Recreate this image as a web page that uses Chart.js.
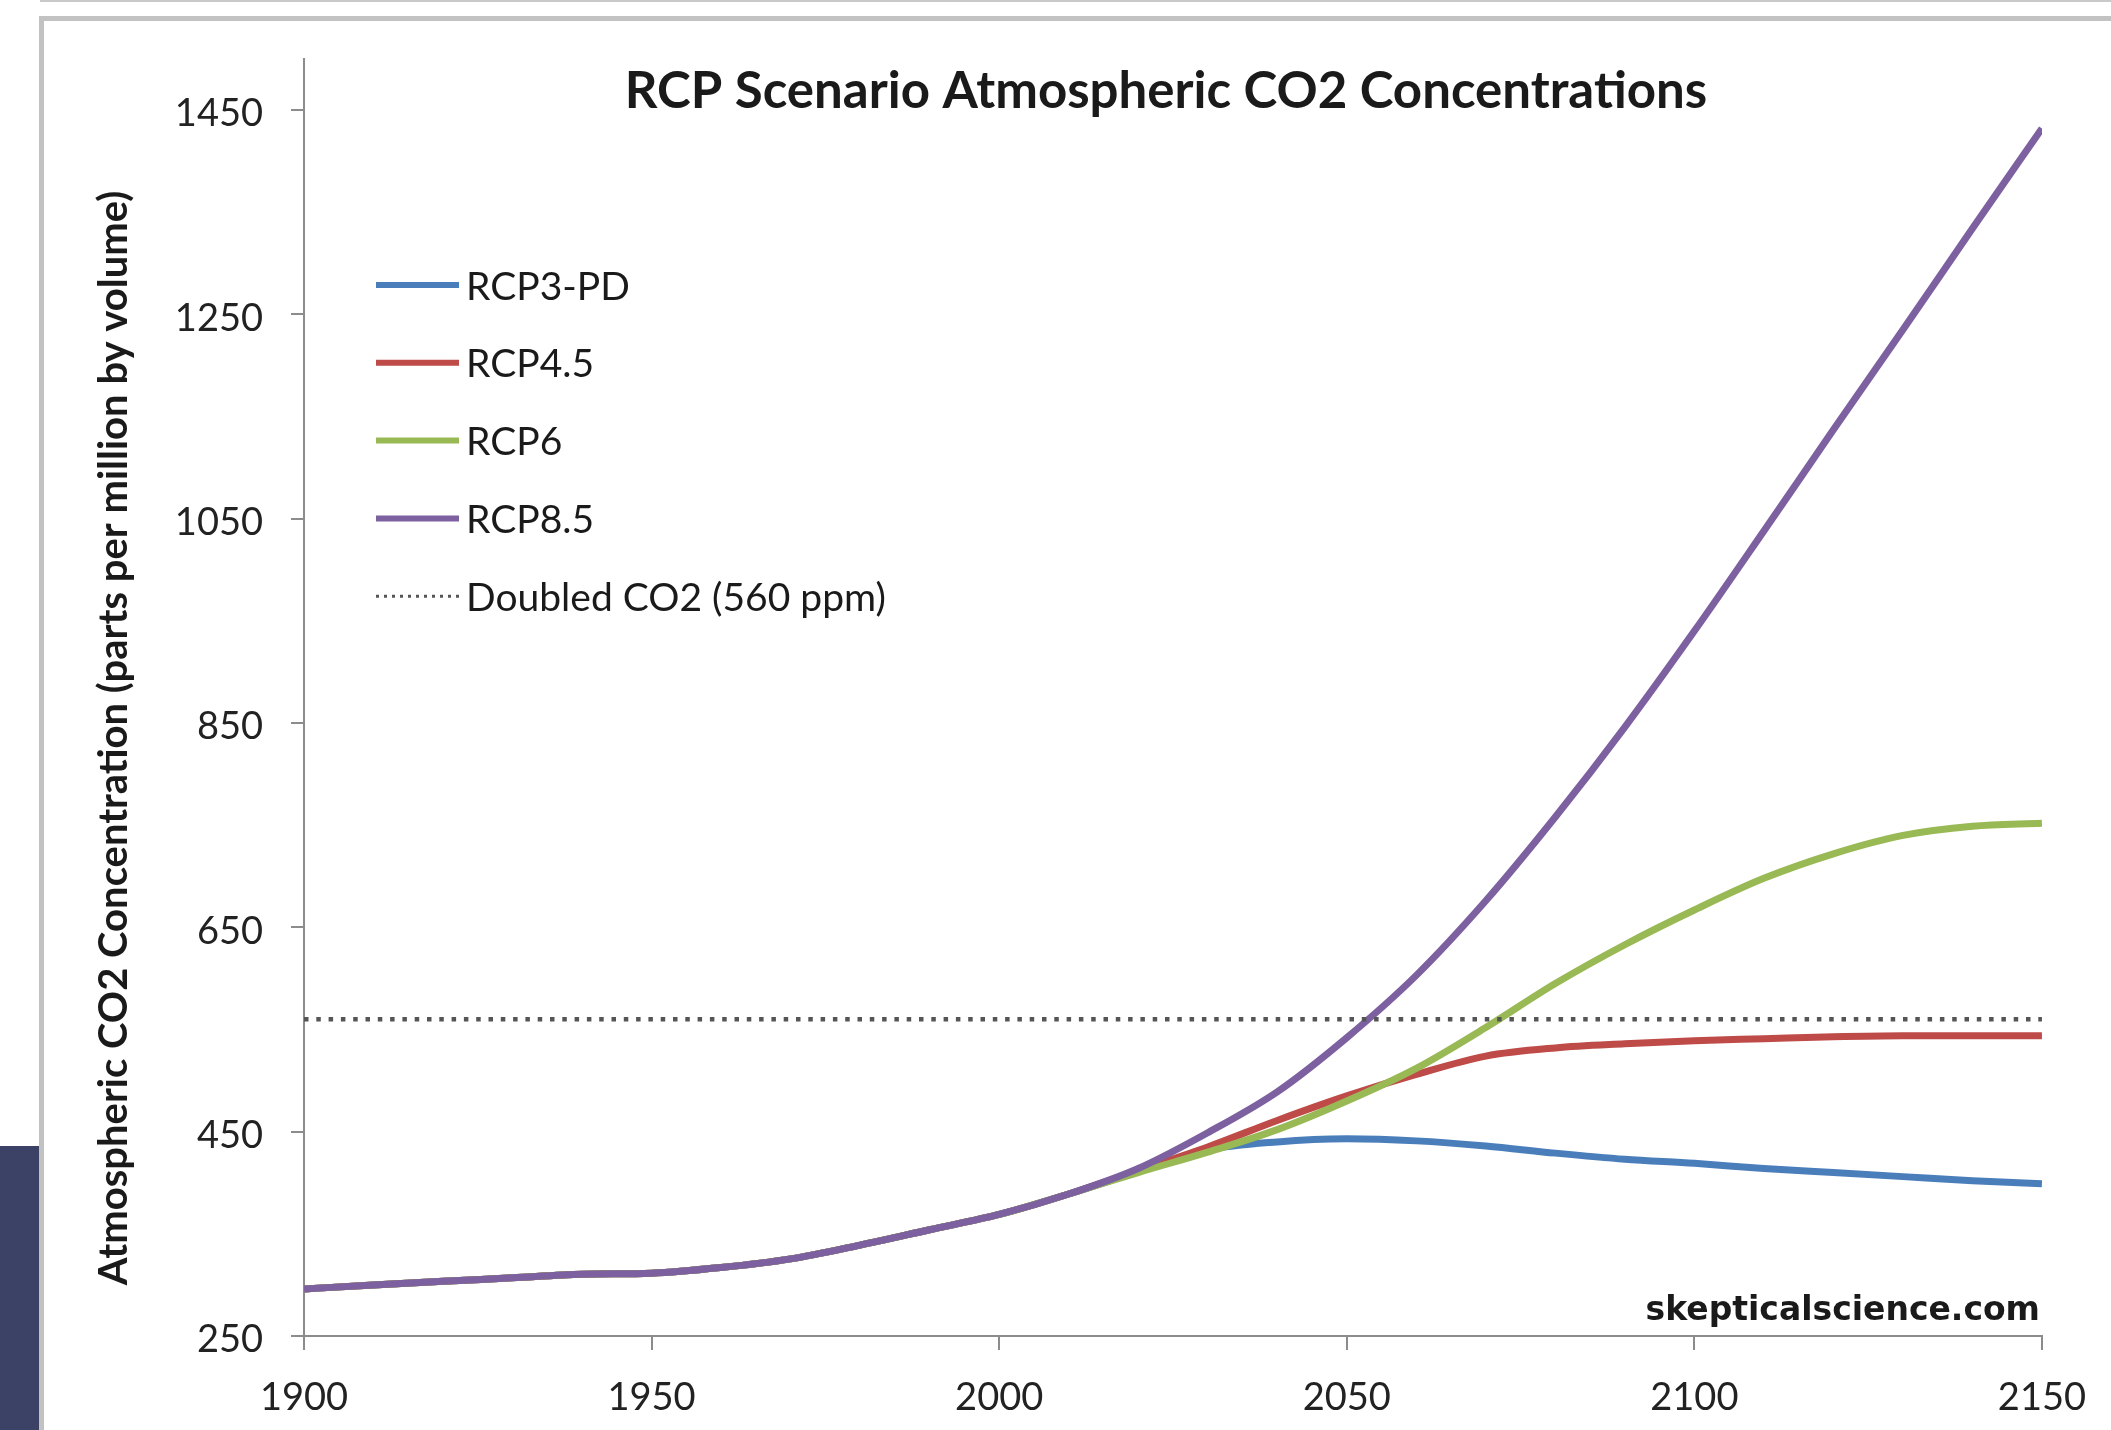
<!DOCTYPE html>
<html>
<head>
<meta charset="utf-8">
<title>RCP Scenario Atmospheric CO2 Concentrations</title>
<script src="https://cdn.jsdelivr.net/npm/chart.js@4.4.1/dist/chart.umd.min.js"></script>
<style>
    html, body { margin: 0; padding: 0; background: #fff; }
    body { width: 2111px; height: 1430px; position: relative; overflow: hidden; }
    .top-rule { position: absolute; left: 40px; right: 0; top: 0; height: 2px; background: #c9c9c9; }
    .frame { position: absolute; left: 39px; top: 16px; right: -10px; bottom: -10px; border-top: 5px solid #c2c2c2; border-left: 5px solid #c2c2c2; }
    .side-tab { position: absolute; left: 0; top: 1146px; width: 39px; bottom: 0; background: #3b4265; }
    #co2Chart { position: absolute; left: 0; top: 0; }
</style>
</head>
<body>
<div class="top-rule"></div>
<div class="frame"></div>
<div class="side-tab"></div>
<canvas id="co2Chart" width="2111" height="1430"></canvas>
<script>
// Values (ppm)
const histYears = [1900, 1910, 1920, 1930, 1940, 1950, 1960, 1970, 1980, 1990, 2000, 2010];
const historical = [296, 300, 303.5, 307, 310.5, 311.5, 317, 325.5, 339, 354, 369, 389];

const futureYears = [2020, 2030, 2040, 2050, 2060, 2070, 2080, 2090, 2100, 2110, 2120, 2130, 2140, 2150];
const rcp3pd = [411, 432, 440, 443, 441, 436, 429, 423, 419, 414, 410, 406, 402, 399];
const rcp45  = [412, 435, 461, 485, 506, 524, 532, 536, 539, 541, 543, 544, 544, 544];
const rcp6   = [410, 430, 452, 480, 512, 552, 595, 633, 667, 698, 722, 740, 749, 752];
const rcp85  = [414, 449, 489, 542, 603, 676, 758, 846, 940, 1038, 1137, 1235, 1334, 1432];

const doubledYears = [1900, 2150];
const doubledCO2 = [560, 560];

const xTicks = [1900, 1950, 2000, 2050, 2100, 2150];
const yTicks = [250, 450, 650, 850, 1050, 1250, 1450];

const seriesNames = ['RCP3-PD', 'RCP4.5', 'RCP6', 'RCP8.5', 'Doubled CO2 (560 ppm)'];
const seriesColors = ['#4A7EBB', '#BE4B48', '#98B954', '#7D60A0', '#555555'];

const chartTitle = 'RCP Scenario Atmospheric CO2 Concentrations';
const yAxisTitle = 'Atmospheric CO2 Concentration (parts per million by volume)';
const watermark = 'skepticalscience.com';

const FONT = "Lato, 'Open Sans', sans-serif";

const CO2Chart = {
    chart: null,

    init() {
        const ctx = document.getElementById('co2Chart');
        this.chart = new Chart(ctx, {
            type: 'line',
            data: { datasets: this.buildDatasets() },
            options: this.buildOptions(),
            plugins: [this.overlayPlugin()]
        });
    },

    toPoints(xs, ys) {
        return xs.map((x, i) => ({ x, y: ys[i] }));
    },

    buildDatasets() {
        const hist = this.toPoints(histYears, historical);
        const scen = [rcp3pd, rcp45, rcp6, rcp85];
        // lower order is drawn on top: dotted line, then purple, green, red, blue
        const order = [4, 3, 2, 1];
        const sets = scen.map((vals, i) => ({
            label: seriesNames[i],
            data: hist.concat(this.toPoints(futureYears, vals)),
            borderColor: seriesColors[i],
            borderWidth: 7,
            pointRadius: 0,
            cubicInterpolationMode: 'monotone',
            order: order[i]
        }));
        sets.push({
            label: seriesNames[4],
            data: this.toPoints(doubledYears, doubledCO2),
            borderColor: seriesColors[4],
            borderWidth: 4.5,
            borderDash: [4.5, 7.8],
            borderCapStyle: 'butt',
            pointRadius: 0,
            order: 0
        });
        return sets;
    },

    buildOptions() {
        const axisColor = '#8c8c8c';
        const tickFont = { family: FONT, size: 38 };
        return {
            responsive: false,
            animation: false,
            devicePixelRatio: 1,
            layout: { padding: { left: 0, top: 59, right: 65, bottom: 0 } },
            plugins: { legend: { display: false }, tooltip: { enabled: false }, title: { display: false } },
            scales: {
                x: {
                    type: 'linear',
                    min: 1900,
                    max: 2150,
                    afterBuildTicks: (axis) => { axis.ticks = xTicks.map(v => ({ value: v })); },
                    afterFit: (axis) => { axis.height = 94; },
                    grid: { drawOnChartArea: false, drawTicks: true, tickLength: 14, color: axisColor, lineWidth: 2 },
                    border: { display: true, color: axisColor, width: 2 },
                    ticks: { font: tickFont, color: '#222', padding: 25, maxRotation: 0, callback: v => String(v) }
                },
                y: {
                    type: 'linear',
                    min: 250,
                    max: 1500,
                    afterBuildTicks: (axis) => { axis.ticks = yTicks.map(v => ({ value: v })); },
                    afterFit: (axis) => { axis.width = 304; },
                    grid: { drawOnChartArea: false, drawTicks: true, tickLength: 13, color: axisColor, lineWidth: 2 },
                    border: { display: true, color: axisColor, width: 2 },
                    ticks: { font: tickFont, color: '#222', padding: 28, labelOffset: 4, callback: v => String(v) }
                }
            }
        };
    },

    overlayPlugin() {
        return {
            id: 'co2Overlay',
            afterDraw(chart) {
                const { ctx } = chart;
                ctx.save();
                ctx.fillStyle = '#1a1a1a';

                // chart title
                ctx.font = `bold 51px ${FONT}`;
                ctx.textAlign = 'center';
                ctx.textBaseline = 'middle';
                ctx.fillText(chartTitle, 1166, 92);

                // y axis title
                ctx.save();
                ctx.translate(114, 738);
                ctx.rotate(-Math.PI / 2);
                ctx.font = `bold 40px ${FONT}`;
                ctx.fillText(yAxisTitle, 0, 0);
                ctx.restore();

                // watermark
                ctx.font = "bold 33px 'DejaVu Sans', sans-serif";
                ctx.textAlign = 'right';
                ctx.fillText(watermark, 2040, 1311);

                // legend
                const ordered = [0, 1, 2, 3, 4];
                ctx.font = `39px ${FONT}`;
                ctx.textAlign = 'left';
                ordered.forEach((idx, row) => {
                    const ds = chart.data.datasets[idx];
                    const y = 285 + row * 77.8;
                    ctx.save();
                    ctx.strokeStyle = ds.borderColor;
                    ctx.lineWidth = idx === 4 ? 3 : 6;
                    ctx.setLineDash(ds.borderDash ? [3, 5] : []);
                    ctx.beginPath();
                    ctx.moveTo(376, y);
                    ctx.lineTo(459, y);
                    ctx.stroke();
                    ctx.restore();
                    ctx.fillText(ds.label, 466, y + 2);
                });
                ctx.restore();
            }
        };
    }
};

document.addEventListener('DOMContentLoaded', () => CO2Chart.init());
</script>
</body>
</html>
